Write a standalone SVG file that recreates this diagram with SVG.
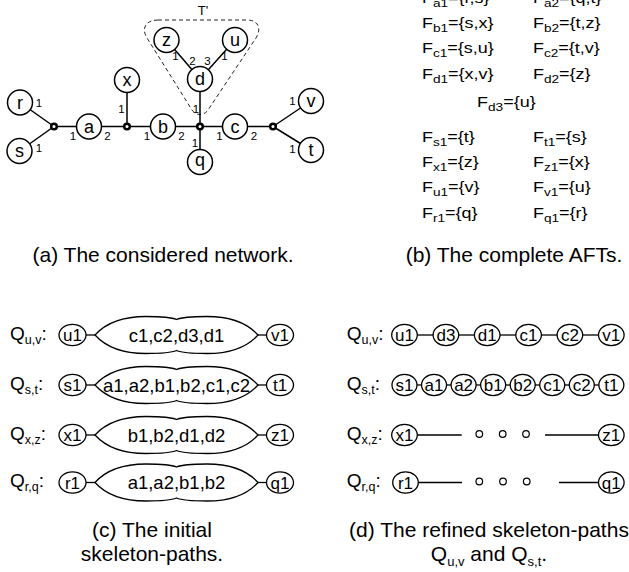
<svg xmlns="http://www.w3.org/2000/svg" width="629" height="572" viewBox="0 0 629 572">
<style>
  text{font-family:"Liberation Sans",Arial,Helvetica,sans-serif;fill:#000}
  .node circle{fill:#fff;stroke:#000;stroke-width:1.5}
  .node text{font-size:18px;text-anchor:middle}
  .port{font-size:11.5px;text-anchor:middle}
  .edge{stroke:#000;stroke-width:1.5;fill:none}
  .junc{fill:#fff;stroke:#000;stroke-width:2.5}
  .cap{font-size:21px;text-anchor:middle}
  .capsub{font-size:13px}
  .aft{font-size:14.5px}
  .sub{font-size:11px}
  .ql{font-size:19px}
  .qs{font-size:12.5px}
  .el ellipse{fill:#fff;stroke:#000;stroke-width:1.3}
  .el text{font-size:17px;text-anchor:middle}
  .blob use{fill:#fff;stroke:#000;stroke-width:1.3}
  .blob text{font-size:18.5px;text-anchor:middle}
  .link{stroke:#000;stroke-width:1.3}
  .dot{fill:#fff;stroke:#000;stroke-width:1.2}
</style>
<defs>
  <!-- double-bump cloud with pointed ends, centred on the origin -->
  <path id="blob" d="M-81.5,0 C-72.5,-10 -58.5,-18.5 -30.5,-18.5 C-14.5,-18.5 -4.5,-17.5 0,-15.5 C4.5,-17.5 14.5,-18.5 30.5,-18.5 C58.5,-18.5 72.5,-10 81.5,0 C72.5,10 58.5,18.5 30.5,18.5 C14.5,18.5 4.5,17.5 0,15.5 C-4.5,17.5 -14.5,18.5 -30.5,18.5 C-58.5,18.5 -72.5,10 -81.5,0 Z"/>
</defs>
<rect width="629" height="572" fill="#fff"/>

<!-- ===== (a) network ===== -->
<g id="subtree-outline">
  <path d="M158,20 L247,20 C258,20 262,28 256,38 L208,110 C204,116 196,116 192,110 L147,38 C141,28 146,20 158,20 Z" fill="none" stroke="#222" stroke-width="1" stroke-dasharray="4 3"/>
  <text x="203" y="15" font-size="13" text-anchor="middle">T'</text>
</g>

<g id="connectors">
  <line class="edge" x1="54" y1="126.5" x2="273" y2="126.5"/>
  <line class="edge" x1="20" y1="102.5" x2="54" y2="126.5"/>
  <line class="edge" x1="19.5" y1="151" x2="54" y2="126.5"/>
  <line class="edge" x1="127" y1="80" x2="127" y2="126.5"/>
  <line class="edge" x1="200" y1="79" x2="200" y2="162"/>
  <line class="edge" x1="200" y1="79" x2="166.5" y2="40"/>
  <line class="edge" x1="200" y1="79" x2="235" y2="40"/>
  <line class="edge" x1="273" y1="126.5" x2="311" y2="101"/>
  <line class="edge" x1="273" y1="126.5" x2="311" y2="150"/>
</g>

<g id="junctions">
  <circle class="junc" cx="54" cy="126.5" r="2.8"/>
  <circle class="junc" cx="127" cy="126.5" r="2.8"/>
  <circle class="junc" cx="200" cy="126.5" r="2.8"/>
  <circle class="junc" cx="273" cy="126.5" r="2.8"/>
</g>

<g id="node-r" class="node"><circle cx="20" cy="102.5" r="12.5"/><text x="20" y="108.5">r</text></g>
<g id="node-s" class="node"><circle cx="19.5" cy="151" r="12.5"/><text x="19.5" y="157">s</text></g>
<g id="node-a" class="node"><circle cx="89" cy="126.5" r="12.5"/><text x="89" y="132.5">a</text></g>
<g id="node-x" class="node"><circle cx="127" cy="80" r="12.5"/><text x="127" y="86">x</text></g>
<g id="node-b" class="node"><circle cx="163" cy="126.5" r="12.5"/><text x="163" y="132.5">b</text></g>
<g id="node-d" class="node"><circle cx="200" cy="79" r="12.5"/><text x="200" y="85">d</text></g>
<g id="node-z" class="node"><circle cx="166.5" cy="40" r="12.5"/><text x="166.5" y="46">z</text></g>
<g id="node-u" class="node"><circle cx="235" cy="40" r="12.5"/><text x="235" y="46">u</text></g>
<g id="node-q" class="node"><circle cx="200" cy="162" r="12.5"/><text x="200" y="166">q</text></g>
<g id="node-c" class="node"><circle cx="235" cy="126.5" r="12.5"/><text x="235" y="132.5">c</text></g>
<g id="node-v" class="node"><circle cx="311" cy="101" r="12.5"/><text x="311" y="107">v</text></g>
<g id="node-t" class="node"><circle cx="311" cy="150" r="12.5"/><text x="311" y="156">t</text></g>

<g id="ports" class="port">
  <text x="39" y="107">1</text>
  <text x="39" y="152">1</text>
  <text x="73" y="140">1</text>
  <text x="107.5" y="140">2</text>
  <text x="121.5" y="113">1</text>
  <text x="147" y="140">1</text>
  <text x="181.5" y="140">2</text>
  <text x="196" y="113">1</text>
  <text x="195" y="147">1</text>
  <text x="219.5" y="140">1</text>
  <text x="254" y="140">2</text>
  <text x="292.5" y="105">1</text>
  <text x="292.5" y="153">1</text>
  <text x="175.5" y="60">1</text>
  <text x="192.5" y="65">2</text>
  <text x="207.5" y="65">3</text>
  <text x="224.5" y="60">1</text>
</g>

<text class="cap" x="163" y="262">(a) The considered network.</text>

<!-- ===== (b) forwarding tables ===== -->
<g id="afts" class="aft" transform="scale(1.24,1)">
  <text x="340.3" y="3">F<tspan class="sub" dy="4">a1</tspan><tspan dy="-4">={r,s}</tspan></text>
  <text x="429.8" y="3">F<tspan class="sub" dy="4">a2</tspan><tspan dy="-4">={q,t}</tspan></text>
  <text x="340.3" y="28">F<tspan class="sub" dy="4">b1</tspan><tspan dy="-4">={s,x}</tspan></text>
  <text x="429.8" y="28">F<tspan class="sub" dy="4">b2</tspan><tspan dy="-4">={t,z}</tspan></text>
  <text x="340.3" y="53.5">F<tspan class="sub" dy="4">c1</tspan><tspan dy="-4">={s,u}</tspan></text>
  <text x="429.8" y="53.5">F<tspan class="sub" dy="4">c2</tspan><tspan dy="-4">={t,v}</tspan></text>
  <text x="340.3" y="79.5">F<tspan class="sub" dy="4">d1</tspan><tspan dy="-4">={x,v}</tspan></text>
  <text x="429.8" y="79.5">F<tspan class="sub" dy="4">d2</tspan><tspan dy="-4">={z}</tspan></text>
  <text x="384.7" y="107">F<tspan class="sub" dy="4">d3</tspan><tspan dy="-4">={u}</tspan></text>
  <text x="340.3" y="142">F<tspan class="sub" dy="4">s1</tspan><tspan dy="-4">={t}</tspan></text>
  <text x="429.8" y="142">F<tspan class="sub" dy="4">t1</tspan><tspan dy="-4">={s}</tspan></text>
  <text x="340.3" y="167">F<tspan class="sub" dy="4">x1</tspan><tspan dy="-4">={z}</tspan></text>
  <text x="429.8" y="167">F<tspan class="sub" dy="4">z1</tspan><tspan dy="-4">={x}</tspan></text>
  <text x="340.3" y="192.5">F<tspan class="sub" dy="4">u1</tspan><tspan dy="-4">={v}</tspan></text>
  <text x="429.8" y="192.5">F<tspan class="sub" dy="4">v1</tspan><tspan dy="-4">={u}</tspan></text>
  <text x="340.3" y="218">F<tspan class="sub" dy="4">r1</tspan><tspan dy="-4">={q}</tspan></text>
  <text x="429.8" y="218">F<tspan class="sub" dy="4">q1</tspan><tspan dy="-4">={r}</tspan></text>
</g>

<text class="cap" x="514" y="262">(b) The complete AFTs.</text>

<!-- ===== (c) initial skeleton-paths ===== -->
<g id="init-labels" class="ql">
  <text x="10" y="339.5">Q<tspan class="qs" dy="4">u,v</tspan><tspan dy="-4">:</tspan></text>
  <text x="10" y="389.5">Q<tspan class="qs" dy="4">s,t</tspan><tspan dy="-4">:</tspan></text>
  <text x="10" y="439.5">Q<tspan class="qs" dy="4">x,z</tspan><tspan dy="-4">:</tspan></text>
  <text x="10" y="487">Q<tspan class="qs" dy="4">r,q</tspan><tspan dy="-4">:</tspan></text>
</g>

<g id="init-links">
  <line class="link" x1="86" y1="335" x2="95" y2="335"/><line class="link" x1="258" y1="335" x2="266.5" y2="335"/>
  <line class="link" x1="86" y1="385" x2="95" y2="385"/><line class="link" x1="258" y1="385" x2="266.5" y2="385"/>
  <line class="link" x1="86" y1="435" x2="95" y2="435"/><line class="link" x1="258" y1="435" x2="266.5" y2="435"/>
  <line class="link" x1="86" y1="482.5" x2="95" y2="482.5"/><line class="link" x1="258" y1="482.5" x2="266.5" y2="482.5"/>
</g>

<g id="init-uv">
  <g class="el"><ellipse cx="72.5" cy="335" rx="13.5" ry="10.7"/><text x="72.5" y="341">u1</text></g>
  <g class="blob"><use href="#blob" x="176.5" y="335"/><text x="176.5" y="341.5">c1,c2,d3,d1</text></g>
  <g class="el"><ellipse cx="280" cy="335" rx="13.5" ry="10.7"/><text x="280" y="341">v1</text></g>
</g>
<g id="init-st">
  <g class="el"><ellipse cx="72.5" cy="385" rx="13.5" ry="10.7"/><text x="72.5" y="391">s1</text></g>
  <g class="blob"><use href="#blob" x="176.5" y="385"/><text x="176.5" y="391.5">a1,a2,b1,b2,c1,c2</text></g>
  <g class="el"><ellipse cx="280" cy="385" rx="13.5" ry="10.7"/><text x="280" y="391">t1</text></g>
</g>
<g id="init-xz">
  <g class="el"><ellipse cx="72.5" cy="435" rx="13.5" ry="10.7"/><text x="72.5" y="441">x1</text></g>
  <g class="blob"><use href="#blob" x="176.5" y="435"/><text x="176.5" y="441.5">b1,b2,d1,d2</text></g>
  <g class="el"><ellipse cx="280" cy="435" rx="13.5" ry="10.7"/><text x="280" y="441">z1</text></g>
</g>
<g id="init-rq">
  <g class="el"><ellipse cx="72.5" cy="482.5" rx="13.5" ry="10.7"/><text x="72.5" y="488.5">r1</text></g>
  <g class="blob"><use href="#blob" x="176.5" y="482.5"/><text x="176.5" y="489">a1,a2,b1,b2</text></g>
  <g class="el"><ellipse cx="280" cy="482.5" rx="13.5" ry="10.7"/><text x="280" y="488.5">q1</text></g>
</g>

<text class="cap" x="152" y="537">(c) The initial</text>
<text class="cap" x="152" y="561">skeleton-paths.</text>

<!-- ===== (d) refined skeleton-paths ===== -->
<g id="refined-labels" class="ql">
  <text x="346.7" y="339.5">Q<tspan class="qs" dy="4">u,v</tspan><tspan dy="-4">:</tspan></text>
  <text x="346.7" y="389.5">Q<tspan class="qs" dy="4">s,t</tspan><tspan dy="-4">:</tspan></text>
  <text x="346.7" y="439.5">Q<tspan class="qs" dy="4">x,z</tspan><tspan dy="-4">:</tspan></text>
  <text x="346.7" y="487">Q<tspan class="qs" dy="4">r,q</tspan><tspan dy="-4">:</tspan></text>
</g>

<g id="refined-links">
  <line class="link" x1="417.3" y1="335" x2="433.1" y2="335"/>
  <line class="link" x1="458.7" y1="335" x2="474.4" y2="335"/>
  <line class="link" x1="500" y1="335" x2="515.8" y2="335"/>
  <line class="link" x1="541.4" y1="335" x2="557.1" y2="335"/>
  <line class="link" x1="582.7" y1="335" x2="598.5" y2="335"/>
  <line class="link" x1="417" y1="385" x2="422" y2="385"/>
  <line class="link" x1="446.5" y1="385" x2="451.5" y2="385"/>
  <line class="link" x1="476" y1="385" x2="481" y2="385"/>
  <line class="link" x1="505.5" y1="385" x2="510.5" y2="385"/>
  <line class="link" x1="535" y1="385" x2="540" y2="385"/>
  <line class="link" x1="564.5" y1="385" x2="569.5" y2="385"/>
  <line class="link" x1="594" y1="385" x2="599" y2="385"/>
  <line class="link" x1="417.3" y1="435" x2="461.7" y2="435"/>
  <line class="link" x1="545" y1="435" x2="598.5" y2="435"/>
  <line class="link" x1="418.3" y1="482.5" x2="462" y2="482.5"/>
  <line class="link" x1="559" y1="482.5" x2="598.5" y2="482.5"/>
</g>

<g id="refined-uv" class="el">
  <ellipse cx="404.5" cy="335" rx="12.8" ry="10.7"/><text x="404.5" y="341">u1</text>
  <ellipse cx="445.9" cy="335" rx="12.8" ry="10.7"/><text x="445.9" y="341">d3</text>
  <ellipse cx="487.2" cy="335" rx="12.8" ry="10.7"/><text x="487.2" y="341">d1</text>
  <ellipse cx="528.6" cy="335" rx="12.8" ry="10.7"/><text x="528.6" y="341">c1</text>
  <ellipse cx="569.9" cy="335" rx="12.8" ry="10.7"/><text x="569.9" y="341">c2</text>
  <ellipse cx="611.3" cy="335" rx="12.8" ry="10.7"/><text x="611.3" y="341">v1</text>
</g>
<g id="refined-st" class="el">
  <ellipse cx="404.5" cy="385" rx="12.5" ry="10.7"/><text x="404.5" y="391">s1</text>
  <ellipse cx="434.05" cy="385" rx="12.5" ry="10.7"/><text x="434.05" y="391">a1</text>
  <ellipse cx="463.6" cy="385" rx="12.5" ry="10.7"/><text x="463.6" y="391">a2</text>
  <ellipse cx="493.15" cy="385" rx="12.5" ry="10.7"/><text x="493.15" y="391">b1</text>
  <ellipse cx="522.7" cy="385" rx="12.5" ry="10.7"/><text x="522.7" y="391">b2</text>
  <ellipse cx="552.25" cy="385" rx="12.5" ry="10.7"/><text x="552.25" y="391">c1</text>
  <ellipse cx="581.8" cy="385" rx="12.5" ry="10.7"/><text x="581.8" y="391">c2</text>
  <ellipse cx="611.35" cy="385" rx="12.5" ry="10.7"/><text x="611.35" y="391">t1</text>
</g>
<g id="refined-xz">
  <g class="el"><ellipse cx="404.5" cy="435" rx="12.8" ry="10.7"/><text x="404.5" y="441">x1</text></g>
  <circle class="dot" cx="479.3" cy="434" r="3.3"/>
  <circle class="dot" cx="502.7" cy="434" r="3.3"/>
  <circle class="dot" cx="526" cy="434" r="3.3"/>
  <g class="el"><ellipse cx="611.3" cy="435" rx="12.8" ry="10.7"/><text x="611.3" y="441">z1</text></g>
</g>
<g id="refined-rq">
  <g class="el"><ellipse cx="405.5" cy="482.5" rx="12.8" ry="10.7"/><text x="405.5" y="488.5">r1</text></g>
  <circle class="dot" cx="479.3" cy="481.5" r="3.3"/>
  <circle class="dot" cx="503" cy="481.5" r="3.3"/>
  <circle class="dot" cx="526.7" cy="481.5" r="3.3"/>
  <g class="el"><ellipse cx="611.3" cy="482.5" rx="12.8" ry="10.7"/><text x="611.3" y="488.5">q1</text></g>
</g>

<text class="cap" x="489" y="537">(d) The refined skeleton-paths</text>
<text class="cap" x="489" y="561">Q<tspan class="capsub" dy="5">u,v</tspan><tspan dy="-5"> and Q</tspan><tspan class="capsub" dy="5">s,t</tspan><tspan dy="-5">.</tspan></text>
</svg>
